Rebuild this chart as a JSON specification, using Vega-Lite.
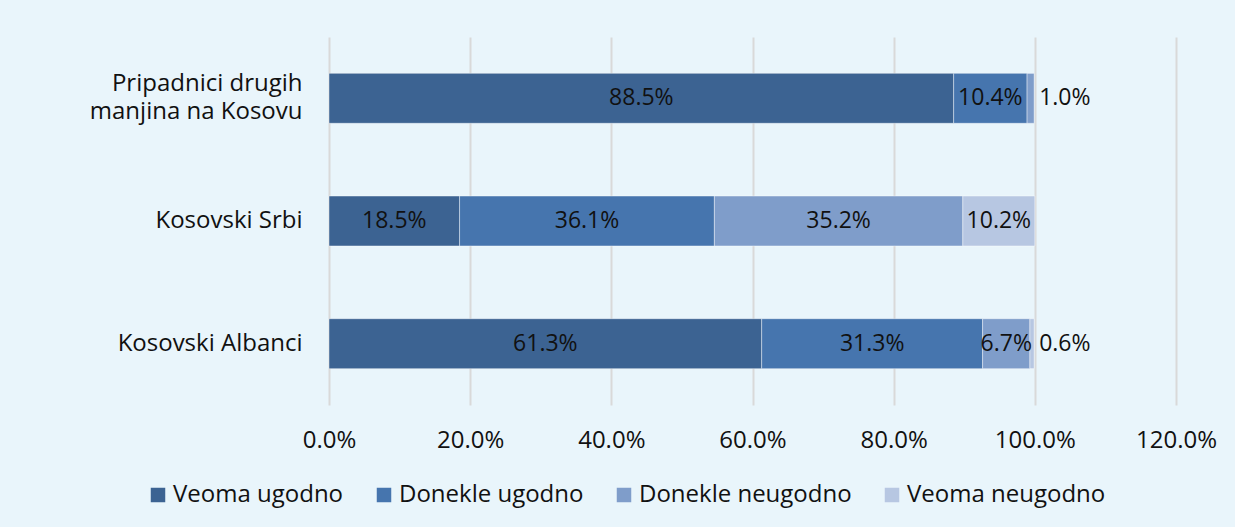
{
  "$schema": "https://vega.github.io/schema/vega-lite/v6.json",
  "width": 847,
  "height": 368,
  "autosize": {"type": "none"},
  "padding": {"left": 329, "top": 37, "right": 59, "bottom": 122},
  "background": "#e9f5fb",
  "config": {"view": {"stroke": null}, "font": "Open Sans", "text": {"font": "Open Sans"}},
  "data": {
    "values": [
      {"group": "Pripadnici drugih manjina na Kosovu", "category": "Veoma ugodno", "order": 1, "value": 88.5},
      {"group": "Pripadnici drugih manjina na Kosovu", "category": "Donekle ugodno", "order": 2, "value": 10.4},
      {"group": "Pripadnici drugih manjina na Kosovu", "category": "Donekle neugodno", "order": 3, "value": 1.0},
      {"group": "Kosovski Srbi", "category": "Veoma ugodno", "order": 1, "value": 18.5},
      {"group": "Kosovski Srbi", "category": "Donekle ugodno", "order": 2, "value": 36.1},
      {"group": "Kosovski Srbi", "category": "Donekle neugodno", "order": 3, "value": 35.2},
      {"group": "Kosovski Srbi", "category": "Veoma neugodno", "order": 4, "value": 10.2},
      {"group": "Kosovski Albanci", "category": "Veoma ugodno", "order": 1, "value": 61.3},
      {"group": "Kosovski Albanci", "category": "Donekle ugodno", "order": 2, "value": 31.3},
      {"group": "Kosovski Albanci", "category": "Donekle neugodno", "order": 3, "value": 6.7},
      {"group": "Kosovski Albanci", "category": "Veoma neugodno", "order": 4, "value": 0.6}
    ]
  },
  "transform": [
    {"stack": "value", "groupby": ["group"], "sort": [{"field": "order", "order": "ascending"}], "as": ["v0", "v1"]},
    {"calculate": "(datum.v0 + datum.v1) / 2", "as": "mid"},
    {"calculate": "format(datum.value, '.1f') + '%'", "as": "label"}
  ],
  "encoding": {
    "y": {
      "field": "group",
      "type": "nominal",
      "sort": ["Pripadnici drugih manjina na Kosovu", "Kosovski Srbi", "Kosovski Albanci"],
      "scale": {"paddingInner": 0.593, "paddingOuter": 0.2965},
      "axis": {
        "title": null,
        "ticks": false,
        "domain": false,
        "labelPadding": 27,
        "labelFontSize": 24,
        "labelColor": "#111111",
        "labelLineHeight": 28,
        "labelLimit": 400,
        "labelOffset": {"condition": {"test": "datum.value == 'Pripadnici drugih manjina na Kosovu'", "value": -14}, "value": 0},
        "labelExpr": "datum.label == 'Pripadnici drugih manjina na Kosovu' ? ['Pripadnici drugih', 'manjina na Kosovu'] : datum.label"
      }
    }
  },
  "layer": [
    {
      "mark": {"type": "bar", "stroke": "#ffffff", "strokeWidth": 0.6, "strokeOpacity": 0.7},
      "encoding": {
        "x": {
          "field": "v0",
          "type": "quantitative",
          "scale": {"domain": [0, 120], "nice": false},
          "axis": {
            "title": null,
            "values": [0, 20, 40, 60, 80, 100, 120],
            "labelExpr": "format(datum.value, '.1f') + '%'",
            "ticks": false,
            "domain": false,
            "grid": true,
            "gridColor": "#d9d9d9",
            "gridWidth": 2,
            "labelPadding": 23,
            "labelFontSize": 24,
            "labelColor": "#111111",
            "labelFlush": false
          }
        },
        "x2": {"field": "v1"},
        "color": {
          "field": "category",
          "type": "nominal",
          "scale": {
            "domain": ["Veoma ugodno", "Donekle ugodno", "Donekle neugodno", "Veoma neugodno"],
            "range": ["#3c6392", "#4675ae", "#7f9dca", "#b7c7e2"]
          },
          "legend": {
            "title": null,
            "orient": "none",
            "direction": "horizontal",
            "legendX": -183,
            "legendY": 446,
            "symbolType": "square",
            "symbolSize": 210,
            "symbolStrokeWidth": 0,
            "labelFontSize": 24,
            "labelColor": "#111111",
            "labelOffset": 3,
            "columnPadding": 28,
            "labelLimit": 400
          }
        }
      }
    },
    {
      "transform": [{"filter": "datum.value >= 3"}],
      "mark": {"type": "text", "fontSize": 23, "color": "#111111"},
      "encoding": {
        "x": {"field": "mid", "type": "quantitative"},
        "text": {"field": "label", "type": "nominal"}
      }
    },
    {
      "transform": [{"filter": "datum.value < 3"}],
      "mark": {"type": "text", "fontSize": 23, "color": "#111111", "align": "left", "dx": 5},
      "encoding": {
        "x": {"field": "v1", "type": "quantitative"},
        "text": {"field": "label", "type": "nominal"}
      }
    }
  ]
}
